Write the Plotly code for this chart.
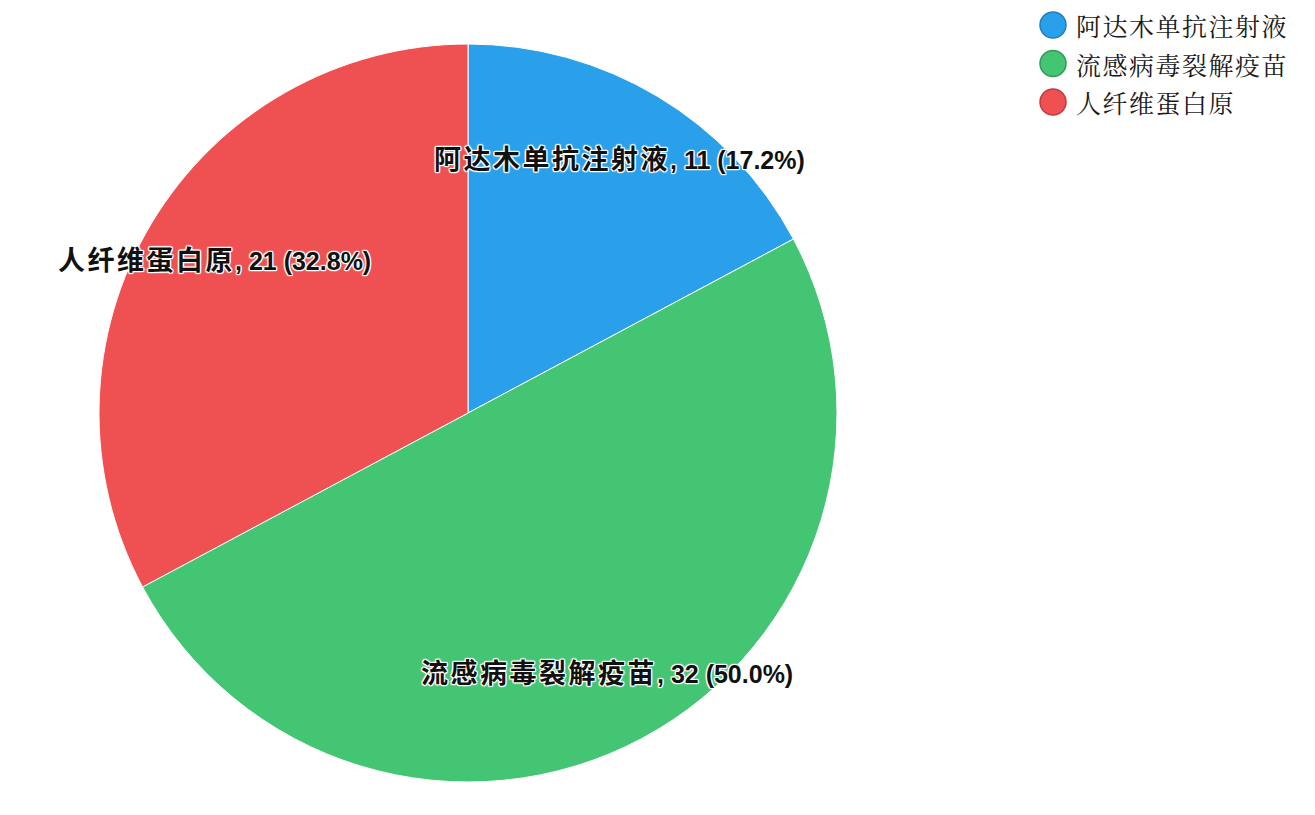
import math
import plotly.graph_objects as go

labels = ["阿达木单抗注射液", "流感病毒裂解疫苗", "人纤维蛋白原"]
values = [11, 32, 21]
colors = ["#2AA0EA", "#44C574", "#EF5152"]
border_colors = ["#1F7FBF", "#2F9A56", "#C23B3C"]

W, H = 1315, 815
OFF = 8  # page body margin
cx_px, cy_px, R_px = 468 - OFF, 413 - OFF, 369
dom_x = [(cx_px - R_px) / W, (cx_px + R_px) / W]
dom_y = [(H - (cy_px + R_px)) / H, (H - (cy_px - R_px)) / H]

fig = go.Figure()
fig.add_trace(go.Pie(
    labels=labels, values=values, sort=False, direction="clockwise", rotation=0,
    marker=dict(colors=colors, line=dict(color="white", width=1)),
    textposition="none", showlegend=False, hoverinfo="label+value+percent",
    domain=dict(x=dom_x, y=dom_y),
))

halo = ("1px 1px 1px white, -1px -1px 1px white, 1px -1px 1px white, -1px 1px 1px white, "
        "0px 1px 1px white, 0px -1px 1px white, 1px 0px 1px white, -1px 0px 1px white")

total = sum(values)
cum = 0
for lab, v in zip(labels, values):
    mid = (cum + v / 2) / total * 2 * math.pi
    cum += v
    px = cx_px + 0.8 * R_px * math.sin(mid)
    py = cy_px - 0.8 * R_px * math.cos(mid)
    fig.add_annotation(
        x=px / W, y=1 - py / H, xref="paper", yref="paper", showarrow=False,
        text=(f"<span style='font-size:27px;letter-spacing:2.5px'>{lab}</span>"
              f", {v} ({v / total * 100:.1f}%)"),
        font=dict(family="Liberation Sans, Noto Sans CJK SC", size=25, color="#111111",
                  weight="bold", shadow=halo),
        xanchor="center", yanchor="middle",
    )

# legend (circle markers with labels)
leg_x, leg_y0, leg_dy, leg_r = 1053 - OFF, 25 - OFF, 38.5, 13
for i, (lab, col, bc) in enumerate(zip(labels, colors, border_colors)):
    yy = leg_y0 + i * leg_dy
    fig.add_shape(type="circle", xref="paper", yref="paper",
                  x0=(leg_x - leg_r) / W, x1=(leg_x + leg_r) / W,
                  y0=1 - (yy + leg_r) / H, y1=1 - (yy - leg_r) / H,
                  fillcolor=col, line=dict(color=bc, width=1.5))
    fig.add_annotation(
        x=(leg_x + 21) / W, y=1 - yy / H, xref="paper", yref="paper", showarrow=False,
        text=f"<span style='letter-spacing:1.5px'>{lab}</span>",
        font=dict(family="Noto Serif CJK SC, Noto Sans CJK SC", size=25, color="#1a1a1a"),
        xanchor="left", yanchor="middle",
    )

fig.update_layout(
    width=W, height=H, margin=dict(l=0, r=0, t=0, b=0),
    paper_bgcolor="white", plot_bgcolor="white",
    showlegend=False,
)

fig.write_html("out.html")
